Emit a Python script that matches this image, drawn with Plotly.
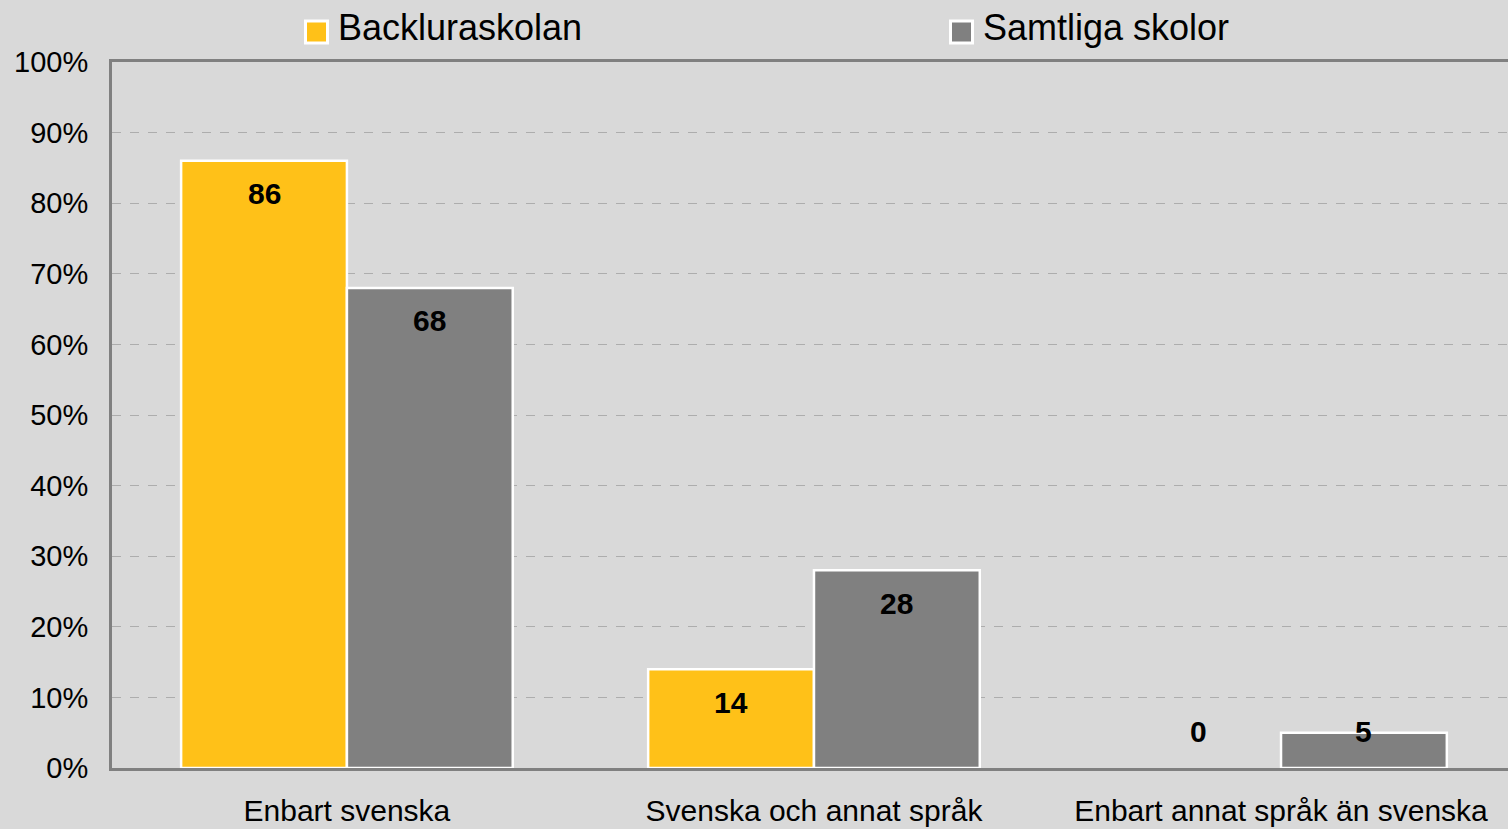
import plotly.graph_objects as go

categories = ["Enbart svenska", "Svenska och annat språk", "Enbart annat språk än svenska"]
series_names = ["Backluraskolan", "Samtliga skolor"]
backlura = [86, 14, 0]
samtliga = [68, 28, 5]
colors = ["#FFC118", "#808080"]

FONT = "Arial, Liberation Sans, sans-serif"
W, H = 1508, 829
ML, MR, MT, MB = 112, 0, 62, 61
PW, PH = W - ML - MR, H - MT - MB
BARGAP = 0.29
bar_w = (1 - BARGAP) / 2

fig = go.Figure()
for name, vals, col in zip(series_names, [backlura, samtliga], colors):
    fig.add_trace(go.Bar(
        name=name, x=categories, y=vals,
        marker=dict(color=col, line=dict(color="white",
                                          width=[2.5 if v > 0 else 0 for v in vals])),
        showlegend=False, hoverinfo="x+y",
    ))

annotations = []
px_per_unit = PH / 100.0
for s, vals in enumerate([backlura, samtliga]):
    off = (-bar_w / 2) if s == 0 else (bar_w / 2)
    for i, v in enumerate(vals):
        ly = max(v - 33 / px_per_unit, 37 / px_per_unit)
        annotations.append(dict(
            x=i + off, y=ly, xref="x", yref="y", text=f"<b>{v}</b>",
            showarrow=False, xanchor="center", yanchor="middle",
            font=dict(family=FONT, size=30, color="black"),
        ))

# manual legend
def px_x(p):
    return (p - ML) / PW

def px_y(p):
    return (H - MB - p) / PH

shapes = []
leg = [(305.5, 338), (950.5, 983)]
for (sq, tx), name, col in zip(leg, series_names, colors):
    shapes.append(dict(type="rect", xref="paper", yref="paper",
                       x0=px_x(sq), x1=px_x(sq + 22), y0=px_y(43), y1=px_y(21),
                       fillcolor=col, line=dict(color="white", width=3)))
    annotations.append(dict(x=px_x(tx), y=px_y(27), xref="paper", yref="paper",
                            text=name, showarrow=False, xanchor="left", yanchor="middle",
                            xshift=-2,
                            font=dict(family=FONT, size=36, color="black")))

fig.update_layout(
    width=W, height=H,
    margin=dict(l=ML, r=MR, t=MT, b=MB, pad=0),
    paper_bgcolor="#D9D9D9", plot_bgcolor="#D9D9D9",
    barmode="group", bargap=BARGAP, bargroupgap=0,
    annotations=annotations, shapes=shapes,
    font=dict(family=FONT, color="black"),
    xaxis=dict(
        type="category", range=[-0.503, 2.486],
        showline=True, linecolor="#808080", linewidth=3, mirror=True,
        showgrid=False, ticks="", zeroline=False,
        tickfont=dict(family=FONT, size=30, color="black"),
        ticklabelstandoff=14,
    ),
    yaxis=dict(
        range=[0, 100], dtick=10, ticksuffix="%",
        showline=True, linecolor="#808080", linewidth=3,
        showgrid=True, gridcolor="#ADADAD", griddash="dash", gridwidth=1,
        zeroline=False, ticks="",
        tickfont=dict(family=FONT, size=29, color="black"),
        ticklabelstandoff=15,
    ),
)

fig.write_html(
    "out.html",
    config={"displayModeBar": False},
    post_script="document.body.style.margin='0';document.body.style.padding='0';document.body.style.overflow='hidden';",
)
